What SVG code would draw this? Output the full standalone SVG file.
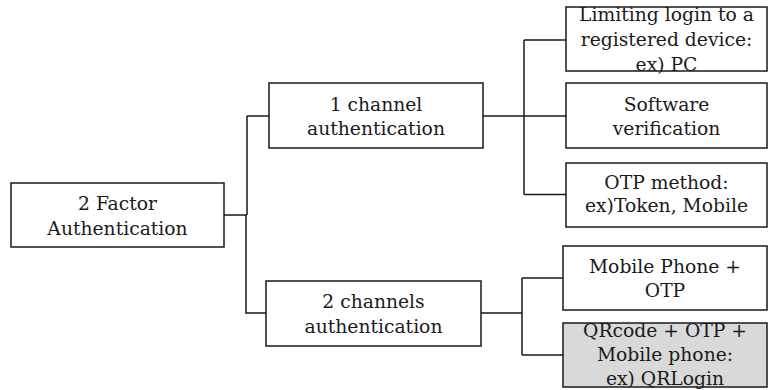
<svg xmlns="http://www.w3.org/2000/svg" width="768" height="390" viewBox="0 0 768 390">
  <style>
    .box { fill: #ffffff; stroke: #1a1a1a; stroke-width: 1.5; }
    .box.shaded { fill: #d9d9d9; }
    .wire { fill: none; stroke: #1a1a1a; stroke-width: 1.5; }
    .labels { font-family: 'DejaVu Serif', serif; font-size: 18px; fill: #1a1a1a; text-anchor: middle; }
  </style>

  <rect width="768" height="390" fill="#ffffff"/>

  <!-- connectors -->
  <g id="connectors" class="wire">
    <path d="M224,215 H247 M247,116 V215 M247,116 H269 M246,215 V313 H266"/>
    <path d="M483,116 H524 M524,40 V194.5 M524,40 H566 M524,116 H566 M524,194.5 H566"/>
    <path d="M481,313 H522 M522,278 V355 M522,278 H563 M522,355 H563"/>
  </g>

  <g class="labels">
  <!-- root -->
  <g id="two-factor">
    <rect class="box" x="11" y="183" width="213" height="64"/>
    <g transform="translate(117.5,0) scale(1.04,1)">
      <text x="0" y="210">2 Factor</text>
      <text x="0" y="235">Authentication</text>
    </g>
  </g>

  <!-- first branch -->
  <g id="one-channel">
    <rect class="box" x="269" y="83" width="214" height="65"/>
    <g transform="translate(376,0) scale(1.04,1)">
      <text x="0" y="111">1 channel</text>
      <text x="0" y="135">authentication</text>
    </g>
  </g>

  <!-- second branch -->
  <g id="two-channels">
    <rect class="box" x="266" y="281" width="215" height="65"/>
    <g transform="translate(373.5,0) scale(1.04,1)">
      <text x="0" y="308.5">2 channels</text>
      <text x="0" y="333">authentication</text>
    </g>
  </g>

  <!-- one-channel methods -->
  <g id="registered-device">
    <rect class="box" x="566" y="7" width="201" height="64"/>
    <g transform="translate(666.5,0) scale(1.04,1)">
      <text x="0" y="21">Limiting login to a</text>
      <text x="0" y="46">registered device:</text>
      <text x="0" y="71">ex) PC</text>
    </g>
  </g>

  <g id="software-verification">
    <rect class="box" x="566" y="83" width="201" height="65"/>
    <g transform="translate(666.5,0) scale(1.04,1)">
      <text x="0" y="111">Software</text>
      <text x="0" y="135">verification</text>
    </g>
  </g>

  <g id="otp-method">
    <rect class="box" x="566" y="163" width="201" height="64"/>
    <g transform="translate(666.5,0) scale(1.04,1)">
      <text x="0" y="189">OTP method:</text>
      <text x="0" y="212">ex)Token, Mobile</text>
    </g>
  </g>

  <!-- two-channel methods -->
  <g id="mobile-otp">
    <rect class="box" x="563" y="246" width="204" height="64"/>
    <g transform="translate(665,0) scale(1.04,1)">
      <text x="0" y="273">Mobile Phone +</text>
      <text x="0" y="297">OTP</text>
    </g>
  </g>

  <g id="qrcode-otp-mobile">
    <rect class="box shaded" x="563" y="323" width="204" height="64"/>
    <g transform="translate(665,0) scale(1.04,1)">
      <text x="0" y="337">QRcode + OTP +</text>
      <text x="0" y="361">Mobile phone:</text>
      <text x="0" y="385">ex) QRLogin</text>
    </g>
  </g>
  </g>
</svg>
